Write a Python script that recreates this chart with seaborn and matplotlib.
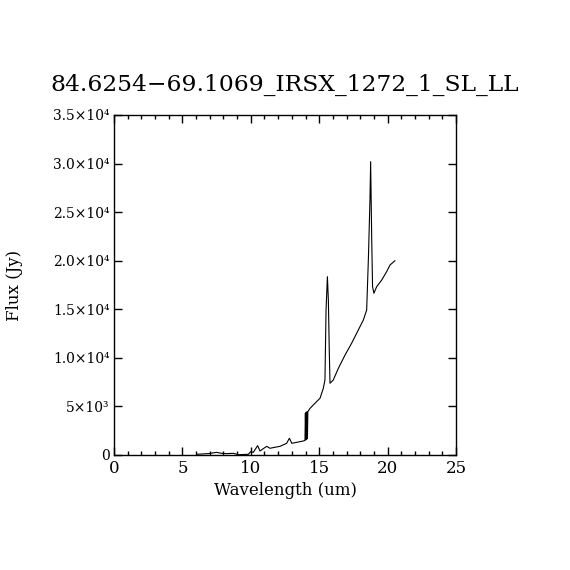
import numpy as np
import pandas as pd
import matplotlib
matplotlib.use('Agg')
import matplotlib.pyplot as plt
import seaborn as sns
from matplotlib.ticker import MultipleLocator

title = '84.6254\u221269.1069_IRSX_1272_1_SL_LL'

# spectrum (um, Jy)
wavelength = [6.04, 6.4, 6.9, 7.5, 7.87, 8.24, 8.72, 9.09, 9.82, 9.99, 10.18,
              10.5, 10.67, 11.16, 11.4, 12.13, 12.62, 12.82, 13.0, 13.84, 13.96,
              13.99, 14.02, 14.05, 14.08, 14.11, 14.14, 14.17,
              14.33, 14.69, 15.06, 15.3, 15.42, 15.5, 15.6, 15.67, 15.74, 15.79,
              16.03, 16.4, 16.89, 17.37, 17.86, 18.23, 18.47, 18.6, 18.71, 18.76,
              18.84, 18.9, 19.0, 19.2, 19.57, 19.93, 20.18, 20.54]
flux = [70, 100, 140, 270, 170, 140, 170, 30, 70, 340, 270,
        960, 410, 890, 690, 890, 1200, 1720, 1200, 1440, 1500,
        4300, 1550, 4400, 1600, 4450, 1700, 4460,
        4800, 5320, 5840, 6860, 7720, 14900, 18350, 15950, 10470, 7380,
        7720, 8920, 10290, 11500, 12870, 13900, 14930, 20400, 26250, 30190,
        22130, 17320, 16650, 17320, 18010, 18870, 19560, 20000]

y_ticks = [0, 5000, 10000, 15000, 20000, 25000, 30000, 35000]
y_tick_labels = ['0', '5\u00d710\u00b3', '1.0\u00d710\u2074', '1.5\u00d710\u2074',
                 '2.0\u00d710\u2074', '2.5\u00d710\u2074', '3.0\u00d710\u2074',
                 '3.5\u00d710\u2074']

df = pd.DataFrame({'wl': wavelength, 'flux': flux})

sns.set_style('ticks')
plt.rcParams['font.family'] = ['DejaVu Serif', 'DejaVu Sans']
plt.rcParams['text.color'] = 'black'
plt.rcParams['axes.labelcolor'] = 'black'
plt.rcParams['xtick.color'] = 'black'
plt.rcParams['ytick.color'] = 'black'

fig = plt.figure(figsize=(5.7, 5.7), dpi=100)
ax = fig.add_axes([0.2, 0.2018, 0.6, 0.5965])
sns.lineplot(data=df, x='wl', y='flux', sort=False, color='black', lw=0.8, ax=ax)

ax.set_xlim(0, 25)
ax.set_ylim(0, 35000)
ax.xaxis.set_major_locator(MultipleLocator(5))
ax.xaxis.set_minor_locator(MultipleLocator(1))
ax.set_yticks(y_ticks)
ax.set_yticklabels(y_tick_labels, fontsize=10)
ax.tick_params(axis='x', labelsize=12)
ax.tick_params(axis='y', pad=3)
ax.tick_params(which='both', direction='in', top=True, right=True)
ax.tick_params(which='major', length=6, width=1)
ax.tick_params(which='minor', length=3, width=1)
for s in ax.spines.values():
    s.set_linewidth(1)
    s.set_color('black')

ax.set_xlabel('Wavelength (um)', fontsize=12)
ax.set_ylabel('Flux (Jy)', fontsize=12)
ax.yaxis.set_label_coords(-0.265, 0.5)
ax.set_title(title, fontsize=16.8, pad=17)

fig.savefig('out.png', dpi=100, facecolor='white')
